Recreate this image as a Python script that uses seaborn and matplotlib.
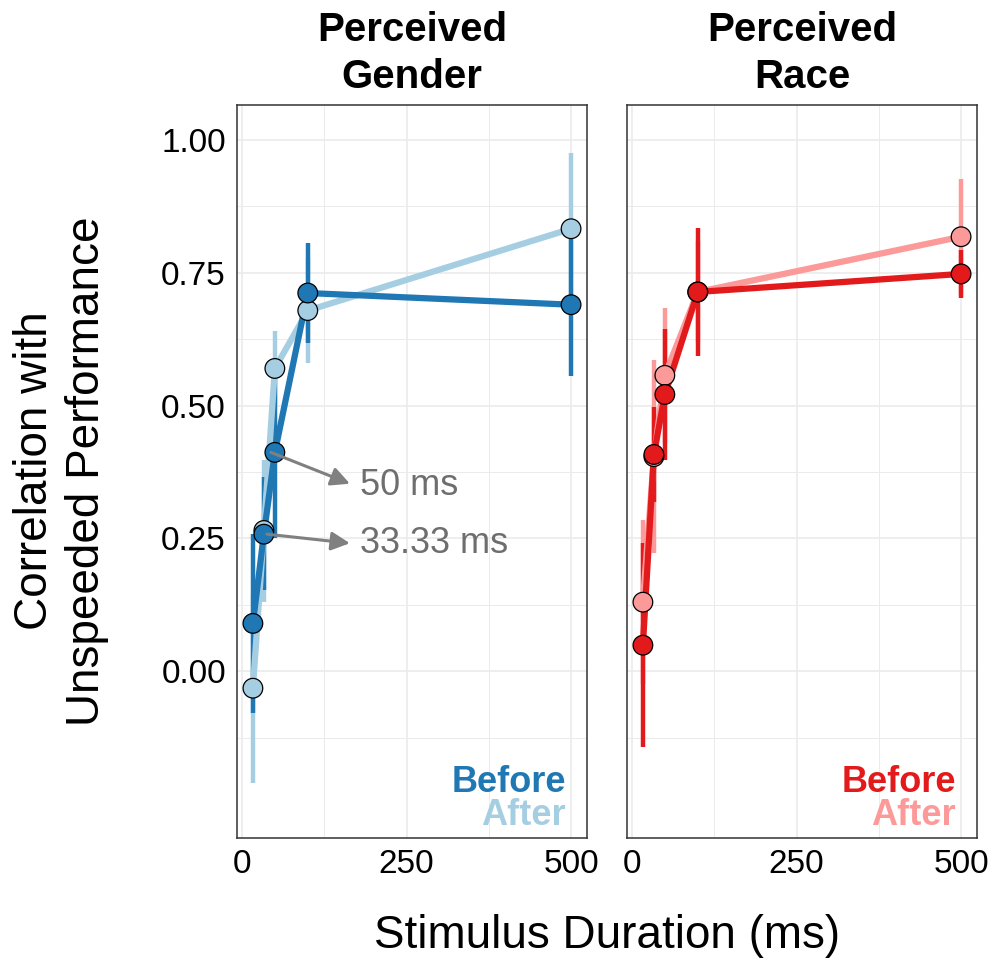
import numpy as np
import pandas as pd
import matplotlib.pyplot as plt
import seaborn as sns

# stimulus durations (ms)
durations = [16.67, 33.33, 50, 100, 500]

# perceived gender: correlation with unspeeded performance
gender_before = [0.090, 0.258, 0.412, 0.712, 0.690]
gender_before_lo = [-0.079, 0.152, 0.250, 0.618, 0.555]
gender_before_hi = [0.259, 0.365, 0.574, 0.806, 0.825]
gender_after = [-0.032, 0.265, 0.570, 0.679, 0.833]
gender_after_lo = [-0.210, 0.130, 0.500, 0.580, 0.690]
gender_after_hi = [0.146, 0.397, 0.640, 0.778, 0.976]

# perceived race
race_before = [0.049, 0.408, 0.521, 0.714, 0.748]
race_before_lo = [-0.143, 0.318, 0.397, 0.594, 0.703]
race_before_hi = [0.241, 0.498, 0.645, 0.834, 0.793]
race_after = [0.130, 0.404, 0.557, 0.714, 0.818]
race_after_lo = [-0.024, 0.222, 0.430, 0.620, 0.709]
race_after_hi = [0.284, 0.585, 0.684, 0.810, 0.927]

panel_titles = ['Perceived\nGender', 'Perceived\nRace']
phases = ['After', 'Before']
gender_colors = {'Before': '#1F78B4', 'After': '#A6CEE3'}
race_colors = {'Before': '#E31A1C', 'After': '#FB9A99'}


def make_df(before, b_lo, b_hi, after, a_lo, a_hi):
    rows = []
    for phase, vals, lo, hi in [('After', after, a_lo, a_hi), ('Before', before, b_lo, b_hi)]:
        for d, v, l, h in zip(durations, vals, lo, hi):
            rows.append({'duration': d, 'r': v, 'lo': l, 'hi': h, 'phase': phase})
    return pd.DataFrame(rows)


df_gender = make_df(gender_before, gender_before_lo, gender_before_hi,
                    gender_after, gender_after_lo, gender_after_hi)
df_race = make_df(race_before, race_before_lo, race_before_hi,
                  race_after, race_after_lo, race_after_hi)

sns.set_style('white')
plt.rcParams['font.family'] = ['Liberation Sans', 'DejaVu Sans']
plt.rcParams['text.color'] = 'black'
plt.rcParams['axes.labelcolor'] = 'black'

fig = plt.figure(figsize=(9.91, 9.58), dpi=100)
ax1 = fig.add_axes([237 / 991, 1 - 838 / 958, 350 / 991, 733 / 958])
ax2 = fig.add_axes([627 / 991, 1 - 838 / 958, 350 / 991, 733 / 958])

for ax, df, colors, title in [(ax1, df_gender, gender_colors, panel_titles[0]),
                              (ax2, df_race, race_colors, panel_titles[1])]:
    # error bars
    for phase in phases:
        sub = df[df['phase'] == phase]
        ax.vlines(sub['duration'], sub['lo'], sub['hi'], color=colors[phase],
                  lw=3.2, zorder=2)
    sns.lineplot(data=df, x='duration', y='r', hue='phase', hue_order=phases,
                 palette=colors, lw=4.5, legend=False, ax=ax, zorder=3)
    sns.scatterplot(data=df, x='duration', y='r', hue='phase', hue_order=phases,
                    palette=colors, s=200, edgecolor='black', linewidth=0.9,
                    legend=False, ax=ax, zorder=4)

    ax.set_xlim(-7.5, 524.2)
    ax.set_ylim(-0.314, 1.066)
    ax.set_xticks([0, 250, 500])
    ax.set_xticks([125, 375], minor=True)
    ax.set_yticks([0, 0.25, 0.5, 0.75, 1.0])
    ax.set_yticks([-0.125, 0.125, 0.375, 0.625, 0.875], minor=True)
    ax.grid(which='major', color='#EBEBEB', lw=1.2, zorder=0)
    ax.grid(which='minor', color='#EBEBEB', lw=0.7, zorder=0)
    ax.set_axisbelow(True)
    for sp in ax.spines.values():
        sp.set_color('#333333')
        sp.set_linewidth(1.1)
    ax.tick_params(which='major', direction='out', length=5, width=1.1,
                   color='#333333', labelsize=24, labelcolor='black', pad=3)
    ax.tick_params(which='minor', length=0)
    ax.set_xlabel('')
    ax.set_ylabel('')
    ax.set_title(title, fontsize=29, fontweight='bold', pad=12,
                 linespacing=1.3, color='black')

    # colored legend text
    ax.text(492, -0.209, 'Before', color=colors['Before'], fontsize=26,
            fontweight='bold', ha='right', va='center')
    ax.text(492, -0.271, 'After', color=colors['After'], fontsize=26,
            fontweight='bold', ha='right', va='center')

ax1.set_yticklabels(['0.00', '0.25', '0.50', '0.75', '1.00'])
ax2.tick_params(axis='y', which='both', left=False, labelleft=False)

# arrows pointing at the 50 ms and 33.33 ms points
ax1.annotate('', xy=(164, 0.353), xytext=(44, 0.412),
             arrowprops=dict(arrowstyle='-|>', color='#808080', lw=2.2,
                             mutation_scale=28, shrinkA=0, shrinkB=0), zorder=5)
ax1.annotate('', xy=(164, 0.241), xytext=(38, 0.258),
             arrowprops=dict(arrowstyle='-|>', color='#808080', lw=2.2,
                             mutation_scale=28, shrinkA=0, shrinkB=0), zorder=5)
ax1.text(179, 0.35, '50 ms', color='#6E6E6E', fontsize=26, va='center', ha='left')
ax1.text(179, 0.241, '33.33 ms', color='#6E6E6E', fontsize=26, va='center', ha='left')

fig.text(607 / 991, 1 - 936 / 958, 'Stimulus Duration (ms)', fontsize=33,
         ha='center', va='center', color='black')
fig.text(61 / 991, 1 - 471 / 958, 'Correlation with\nUnspeeded Performance',
         fontsize=33, ha='center', va='center', rotation=90,
         multialignment='center', linespacing=1.25, color='black')

fig.savefig('out.png', dpi=100)
